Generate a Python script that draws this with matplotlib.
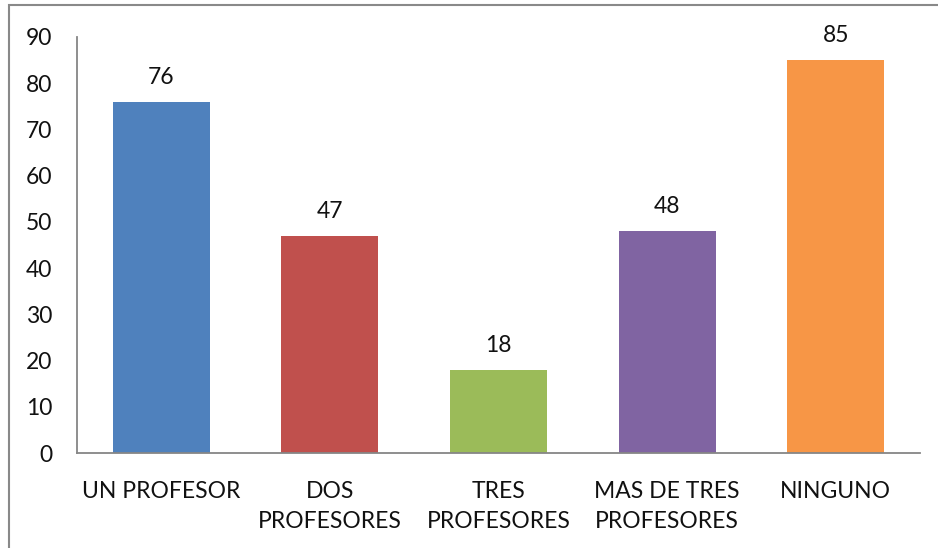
import matplotlib.pyplot as plt
from matplotlib.patches import Rectangle

categories = ["UN PROFESOR", "DOS\nPROFESORES", "TRES\nPROFESORES", "MAS DE TRES\nPROFESORES", "NINGUNO"]
values = [76, 47, 18, 48, 85]
colors = ["#4F81BD", "#C0504D", "#9BBB59", "#8064A2", "#F79646"]
yticks = [0, 10, 20, 30, 40, 50, 60, 70, 80, 90]

plt.rcParams['font.family'] = ['Lato', 'DejaVu Sans']

fig = plt.figure(figsize=(9.38, 5.48), dpi=100)
W, H = 938, 548
ax = fig.add_axes([77 / W, 1 - 453 / H, (920 - 77) / W, (453 - 37) / H])

x = range(len(categories))
bars = ax.bar(x, values, width=0.575, color=colors)
for xi, v in zip(x, values):
    ax.annotate(str(v), (xi, v), xytext=(0, 10), textcoords="offset points",
                ha="center", va="bottom", fontsize=16.5, color='#111111')

ax.set_xlim(-0.5, len(categories) - 0.5)
ax.set_ylim(0, 90)
ax.set_yticks(yticks)
ax.set_xticks(list(x))
ax.set_xticklabels(categories, fontsize=16.5, linespacing=1.55, color='#111111')
ax.tick_params(axis='y', length=0, pad=18, labelsize=16.5, labelcolor='#111111')
ax.tick_params(axis='x', length=0, pad=20)

for s in ['top', 'right']:
    ax.spines[s].set_visible(False)
for s in ['left', 'bottom']:
    ax.spines[s].set_color('#868686')
    ax.spines[s].set_linewidth(1.3)

# outer chart border (only left and top edges visible)
fig.patches.append(Rectangle((8.5 / W, -0.1), 1.2, 1 - 5.5 / H + 0.1,
                             transform=fig.transFigure, fill=False,
                             edgecolor='#898989', linewidth=1.5))

fig.savefig("out.png", dpi=100)
